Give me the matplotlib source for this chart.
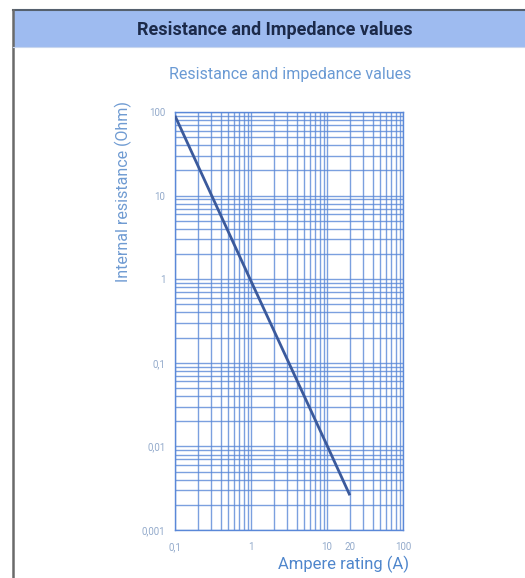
import matplotlib
matplotlib.use("Agg")
import matplotlib.pyplot as plt
from matplotlib.patches import Rectangle
from matplotlib.lines import Line2D
from matplotlib.ticker import FixedLocator, FixedFormatter, LogLocator, NullFormatter

# Curve: internal resistance vs ampere rating
ampere = [0.1, 1, 10, 20]
resistance = [90, 0.95, 0.0103, 0.0026]

x_ticks = [0.1, 1, 10, 20, 100]
x_tick_labels = ["0,1", "1", "10", "20", "100"]
y_ticks = [0.001, 0.01, 0.1, 1, 10, 100]
y_tick_labels = ["0,001", "0,01", "0,1", "1", "10", "100"]

title_text = "Resistance and Impedance values"
subtitle_text = "Resistance and impedance values"
x_label = "Ampere rating (A)"
y_label = "Internal resistance (Ohm)"

narrow = ["Liberation Sans Narrow", "Roboto", "DejaVu Sans"]
plt.rcParams["font.family"] = narrow

W, H = 525, 578
fig = plt.figure(figsize=(W / 100, H / 100), dpi=100)
fig.patch.set_facecolor("white")

# Header band and frame
fig.patches.append(Rectangle((13 / W, 1 - 47 / H), 1 - 13 / W, 37 / H,
                             transform=fig.transFigure, facecolor="#9ebbf0",
                             edgecolor="none", zorder=0))
fig.lines.append(Line2D([13 / W, 1], [1 - 10 / H, 1 - 10 / H], transform=fig.transFigure,
                        color="#55606e", lw=1.5))
fig.lines.append(Line2D([13 / W, 13 / W], [0, 1 - 10 / H], transform=fig.transFigure,
                        color="#6a6a6a", lw=1.8))
fig.lines.append(Line2D([13 / W, 1], [1 - 47 / H, 1 - 47 / H], transform=fig.transFigure,
                        color="#c8d6ee", lw=0.8))
fig.text(275 / W, 1 - 30 / H, title_text, ha="center", va="center",
         fontsize=13, fontweight="bold", color="#1c2a4a")
fig.text(290 / W, 1 - 75 / H, subtitle_text, ha="center", va="center",
         fontsize=11.5, color="#6a9ad4")

ax = fig.add_axes([175 / W, 1 - 530 / H, 228 / W, 418 / H])
ax.set_xscale("log")
ax.set_yscale("log")
ax.set_xlim(0.1, 100)
ax.set_ylim(0.001, 100)

grid_color = "#5a88d8"
ax.xaxis.set_major_locator(FixedLocator(x_ticks))
ax.xaxis.set_major_formatter(FixedFormatter(x_tick_labels))
ax.xaxis.set_minor_locator(LogLocator(base=10, subs=range(2, 10), numticks=20))
ax.xaxis.set_minor_formatter(NullFormatter())
ax.yaxis.set_major_locator(FixedLocator(y_ticks))
ax.yaxis.set_major_formatter(FixedFormatter(y_tick_labels))
ax.yaxis.set_minor_locator(LogLocator(base=10, subs=range(2, 10), numticks=20))
ax.yaxis.set_minor_formatter(NullFormatter())

ax.grid(True, which="both", color=grid_color, lw=1.0, alpha=0.8)
for s in ax.spines.values():
    s.set_color(grid_color)
    s.set_linewidth(1.0)
ax.tick_params(which="both", length=0, labelsize=7, colors="#93aacb")
ax.tick_params(axis="x", pad=9)
ax.tick_params(axis="y", pad=7)

ax.plot(ampere, resistance, color="#3b5a9c", lw=2.0, solid_capstyle="butt", zorder=5)

ax.set_xlabel(x_label, fontsize=12, color="#4f86cc")
ax.xaxis.set_label_coords(0.74, -0.062)
ax.set_ylabel(y_label, fontsize=11.5, color="#6f9bd2")
ax.yaxis.set_label_coords(-0.19, 0.81)

fig.savefig("out.png", dpi=100, facecolor="white")
